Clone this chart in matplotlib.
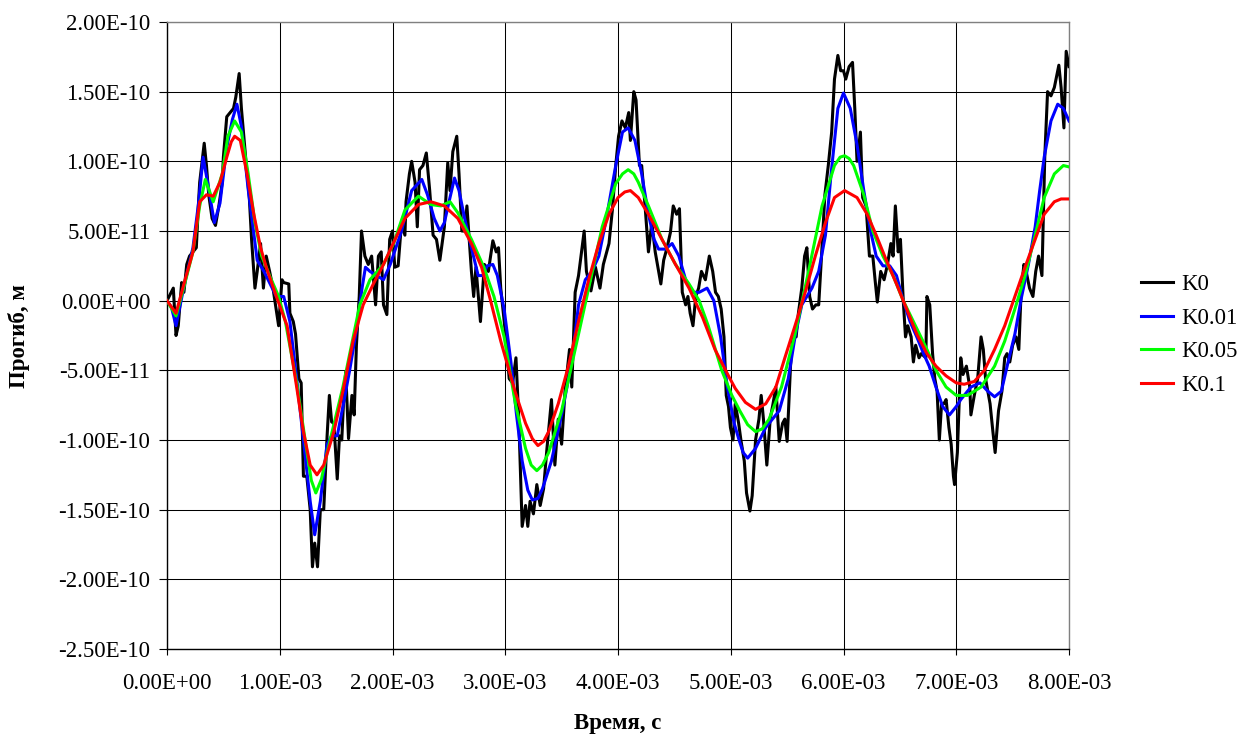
import matplotlib
matplotlib.use("Agg")
import matplotlib.pyplot as plt
from matplotlib.ticker import FuncFormatter

plt.rcParams['font.family'] = ['Liberation Serif', 'DejaVu Serif']

# time in ms, deflection in 1e-11 m
K0 = [(0,0),(0.056,0.9),(0.08,-2.5),(0.10,-1.8),(0.13,1.3),(0.15,0.6),(0.175,2.6),(0.20,3.2),(0.23,3.5),(0.26,3.8),(0.28,7.1),(0.29,8.5),(0.33,11.3),(0.35,9.7),(0.37,7.6),(0.40,5.9),(0.43,5.4),(0.46,6.8),(0.49,8.5),(0.50,10.3),(0.53,13.2),(0.56,13.5),(0.59,13.8),(0.61,14.6),(0.64,16.3),(0.66,13.8),(0.71,9.1),(0.73,7.4),(0.75,4.4),(0.78,0.9),(0.80,2.1),(0.83,4.1),(0.855,0.9),(0.88,3.2),(0.91,2.1),(0.94,0.9),(0.99,-1.8),(1.02,1.5),(1.035,1.3),(1.08,1.2),(1.09,-0.9),(1.12,-1.5),(1.14,-2.4),(1.17,-5.6),(1.19,-5.9),(1.21,-12.6),(1.24,-12.6),(1.27,-15.0),(1.29,-19.1),(1.31,-17.4),(1.335,-19.1),(1.36,-15.0),(1.39,-15.0),(1.42,-9.7),(1.44,-6.8),(1.46,-8.7),(1.48,-8.8),(1.51,-12.8),(1.53,-9.7),(1.55,-10.0),(1.565,-7.4),(1.585,-5.1),(1.61,-9.9),(1.64,-6.8),(1.66,-8.2),(1.68,-3.2),(1.705,0.3),(1.725,5.0),(1.755,3.2),(1.785,2.6),(1.815,3.2),(1.85,-0.3),(1.875,3.2),(1.90,3.5),(1.92,-0.3),(1.95,-1.0),(1.975,4.4),(2.0,5.0),(2.02,2.4),(2.05,2.5),(2.08,5.6),(2.11,4.7),(2.12,7.1),(2.15,9.1),(2.17,10.0),(2.20,8.5),(2.22,5.3),(2.24,9.4),(2.27,9.7),(2.30,10.6),(2.33,7.9),(2.36,4.7),(2.39,4.4),(2.42,2.9),(2.46,5.3),(2.49,9.9),(2.51,7.9),(2.535,10.7),(2.57,11.8),(2.59,9.1),(2.615,5.0),(2.64,5.0),(2.66,6.8),(2.70,2.1),(2.72,0.3),(2.74,2.4),(2.78,-1.5),(2.815,2.6),(2.85,2.1),(2.89,4.3),(2.92,3.5),(2.94,3.8),(2.96,0.9),(3.005,-2.6),(3.035,-5.6),(3.065,-5.9),(3.095,-4.1),(3.12,-8.5),(3.15,-16.2),(3.18,-14.7),(3.20,-16.2),(3.22,-14.4),(3.25,-15.3),(3.28,-13.2),(3.31,-14.7),(3.34,-13.5),(3.37,-10.6),(3.41,-7.1),(3.44,-11.8),(3.47,-8.5),(3.50,-10.3),(3.53,-6.5),(3.57,-3.5),(3.59,-6.2),(3.62,0.6),(3.65,1.8),(3.70,5.0),(3.72,2.1),(3.76,0.7),(3.80,2.4),(3.84,0.9),(3.87,2.6),(3.92,4.1),(3.95,6.5),(3.98,9.7),(4.005,11.8),(4.035,12.9),(4.065,12.4),(4.095,13.5),(4.11,11.5),(4.14,15.0),(4.16,14.4),(4.19,9.7),(4.21,9.7),(4.24,6.8),(4.27,3.5),(4.30,5.6),(4.33,3.5),(4.38,1.2),(4.405,2.9),(4.435,3.8),(4.465,4.9),(4.49,6.8),(4.52,6.2),(4.545,6.6),(4.57,0.6),(4.60,-0.3),(4.62,0.3),(4.64,-0.9),(4.665,-1.8),(4.69,0.3),(4.715,0.9),(4.74,2.1),(4.775,1.5),(4.81,3.2),(4.84,2.1),(4.865,0.6),(4.89,0.3),(4.915,-0.6),(4.94,-2.6),(4.96,-6.8),(4.98,-7.6),(4.997,-9.1),(5.02,-10.0),(5.04,-7.4),(5.07,-8.8),(5.09,-10.0),(5.12,-11.5),(5.14,-13.8),(5.17,-15.1),(5.19,-14.0),(5.22,-10.0),(5.25,-8.5),(5.27,-6.8),(5.29,-8.5),(5.32,-11.8),(5.35,-8.5),(5.375,-7.4),(5.40,-6.2),(5.43,-10.1),(5.46,-8.8),(5.48,-8.5),(5.50,-10.1),(5.53,-4.7),(5.55,-2.6),(5.58,-2.6),(5.60,-0.9),(5.63,0.9),(5.655,3.2),(5.675,3.8),(5.70,0.3),(5.725,-0.6),(5.755,-0.3),(5.78,-0.3),(5.805,3.2),(5.835,7.6),(5.865,9.7),(5.895,12.1),(5.92,15.9),(5.95,17.6),(5.975,16.5),(6.0,16.5),(6.02,15.9),(6.05,16.8),(6.08,17.1),(6.10,13.8),(6.12,10.0),(6.15,12.1),(6.17,7.4),(6.20,6.8),(6.23,3.2),(6.26,3.2),(6.28,1.5),(6.30,-0.1),(6.33,2.1),(6.36,1.5),(6.39,2.6),(6.42,4.1),(6.44,3.2),(6.46,6.8),(6.485,3.5),(6.505,4.4),(6.53,0.0),(6.55,-2.6),(6.57,-1.8),(6.60,-2.6),(6.62,-4.4),(6.64,-3.2),(6.67,-4.1),(6.69,-3.8),(6.73,-4.1),(6.74,0.3),(6.765,-0.3),(6.79,-3.8),(6.81,-5.6),(6.83,-6.5),(6.85,-10.0),(6.87,-7.4),(6.89,-7.4),(6.91,-7.1),(6.935,-9.1),(6.955,-10.3),(6.975,-12.6),(6.985,-13.2),(7.01,-10.9),(7.04,-4.1),(7.06,-5.3),(7.09,-4.7),(7.12,-6.2),(7.13,-8.2),(7.16,-6.8),(7.19,-5.6),(7.22,-2.6),(7.24,-3.5),(7.26,-5.6),(7.30,-7.4),(7.325,-9.4),(7.345,-10.9),(7.375,-7.9),(7.405,-6.5),(7.43,-4.1),(7.45,-3.8),(7.475,-4.4),(7.50,-3.2),(7.53,-2.6),(7.555,-3.5),(7.575,0.6),(7.60,2.6),(7.62,2.1),(7.65,0.9),(7.68,0.3),(7.705,2.1),(7.73,3.2),(7.76,1.8),(7.785,10.3),(7.81,15.0),(7.84,14.7),(7.87,15.3),(7.91,16.9),(7.93,15.3),(7.955,12.4),(7.975,17.9),(8.0,16.8)]

K001 = [(0,0),(0.04,-0.5),(0.08,-1.8),(0.15,1.0),(0.23,3.8),(0.28,7.0),(0.32,10.3),(0.36,8.5),(0.42,5.6),(0.47,7.0),(0.53,11.0),(0.58,13.0),(0.62,14.1),(0.66,12.5),(0.72,8.0),(0.80,2.9),(0.86,2.1),(0.97,0.3),(1.035,0.3),(1.09,-1.5),(1.15,-5.6),(1.21,-10.0),(1.27,-14.4),(1.31,-16.8),(1.36,-14.4),(1.42,-10.3),(1.46,-9.7),(1.51,-9.7),(1.56,-7.6),(1.62,-5.0),(1.68,-2.1),(1.73,0.9),(1.76,2.4),(1.80,2.1),(1.86,1.8),(1.92,1.5),(1.98,2.6),(2.08,5.0),(2.17,7.9),(2.26,8.7),(2.31,7.6),(2.37,5.9),(2.42,5.0),(2.46,5.6),(2.51,7.4),(2.55,8.8),(2.59,7.9),(2.64,5.9),(2.70,3.8),(2.76,1.8),(2.80,1.8),(2.84,2.5),(2.89,2.6),(2.93,1.8),(2.99,-0.6),(3.05,-4.4),(3.10,-8.2),(3.15,-11.5),(3.20,-13.6),(3.24,-14.3),(3.29,-14.2),(3.33,-13.5),(3.41,-11.5),(3.50,-8.2),(3.59,-4.4),(3.65,-0.3),(3.71,1.5),(3.77,2.1),(3.83,3.2),(3.89,5.6),(3.98,9.7),(4.04,12.1),(4.09,12.4),(4.15,11.5),(4.21,9.1),(4.27,6.2),(4.32,4.4),(4.36,3.7),(4.42,3.7),(4.48,4.1),(4.54,3.2),(4.60,1.5),(4.66,0.6),(4.72,0.6),(4.79,0.9),(4.85,0.0),(4.91,-2.6),(4.97,-6.2),(5.03,-8.8),(5.07,-9.9),(5.11,-10.9),(5.15,-11.3),(5.22,-10.6),(5.31,-9.1),(5.43,-7.9),(5.51,-5.6),(5.57,-2.6),(5.63,-0.3),(5.72,0.9),(5.78,2.1),(5.84,4.7),(5.89,9.1),(5.95,13.8),(6.0,14.9),(6.06,13.8),(6.12,11.2),(6.18,7.9),(6.24,5.0),(6.29,3.2),(6.35,2.5),(6.41,2.5),(6.47,1.8),(6.53,0.0),(6.59,-1.5),(6.65,-2.6),(6.71,-3.8),(6.76,-4.7),(6.82,-6.2),(6.88,-7.6),(6.94,-8.2),(7.0,-7.6),(7.04,-7.1),(7.13,-6.2),(7.21,-5.9),(7.28,-6.5),(7.34,-6.9),(7.40,-6.5),(7.46,-4.4),(7.52,-2.4),(7.58,0.3),(7.64,2.6),(7.70,5.3),(7.74,7.9),(7.78,10.3),(7.84,12.9),(7.90,14.1),(7.95,13.8),(8.0,12.9)]

K005 = [(0,0),(0.08,-1.1),(0.15,1.0),(0.23,3.5),(0.29,6.8),(0.34,8.7),(0.41,7.1),(0.49,9.1),(0.54,11.8),(0.60,12.9),(0.66,12.1),(0.72,9.1),(0.78,5.6),(0.84,3.2),(0.91,1.8),(0.99,0.3),(1.05,-1.5),(1.15,-5.9),(1.24,-10.8),(1.28,-12.9),(1.32,-13.8),(1.37,-12.8),(1.42,-10.9),(1.56,-6.2),(1.71,-0.3),(1.80,1.5),(1.92,2.6),(2.01,4.1),(2.11,6.5),(2.23,7.5),(2.34,6.9),(2.43,6.8),(2.51,7.1),(2.58,6.3),(2.70,4.4),(2.81,2.4),(2.90,0.3),(2.99,-2.6),(3.09,-7.4),(3.18,-10.6),(3.23,-11.8),(3.28,-12.2),(3.33,-11.8),(3.385,-10.9),(3.50,-7.9),(3.62,-3.5),(3.74,0.9),(3.86,5.3),(3.98,8.4),(4.04,9.1),(4.09,9.4),(4.14,9.1),(4.18,8.5),(4.27,6.8),(4.39,4.4),(4.51,2.6),(4.63,1.2),(4.72,0.0),(4.80,-1.8),(4.92,-5.0),(5.01,-6.8),(5.08,-7.9),(5.15,-8.9),(5.22,-9.4),(5.28,-9.2),(5.34,-8.5),(5.45,-6.2),(5.57,-2.4),(5.69,2.1),(5.81,6.8),(5.92,9.7),(5.97,10.3),(6.01,10.4),(6.05,10.2),(6.09,9.7),(6.18,7.6),(6.26,5.0),(6.35,3.2),(6.44,1.8),(6.53,0.0),(6.62,-1.5),(6.74,-3.5),(6.82,-5.0),(6.91,-6.2),(7.0,-6.8),(7.10,-6.8),(7.22,-6.2),(7.34,-4.7),(7.43,-2.9),(7.52,-0.6),(7.61,1.8),(7.70,4.7),(7.78,7.4),(7.87,9.1),(7.95,9.7),(8.0,9.6)]

K01 = [(0,0),(0.08,-0.9),(0.15,1.2),(0.23,3.5),(0.29,7.1),(0.35,7.6),(0.41,7.5),(0.47,8.5),(0.53,10.3),(0.57,11.4),(0.60,11.8),(0.65,11.5),(0.71,9.1),(0.77,6.2),(0.83,3.8),(0.88,2.4),(0.97,0.3),(1.065,-1.8),(1.15,-6.2),(1.21,-9.4),(1.27,-11.8),(1.33,-12.5),(1.39,-11.8),(1.48,-9.4),(1.56,-6.5),(1.65,-2.9),(1.74,-0.3),(1.83,1.2),(1.92,2.6),(2.0,4.0),(2.11,5.9),(2.23,6.9),(2.34,7.1),(2.46,6.8),(2.58,5.9),(2.70,4.1),(2.79,2.4),(2.87,0.0),(2.96,-2.9),(3.09,-6.6),(3.18,-8.8),(3.24,-9.9),(3.29,-10.4),(3.34,-10.1),(3.385,-9.4),(3.47,-7.4),(3.56,-4.7),(3.65,-1.5),(3.74,1.5),(3.83,4.1),(3.92,6.2),(4.0,7.4),(4.06,7.8),(4.11,7.9),(4.18,7.4),(4.27,6.2),(4.39,4.4),(4.51,2.6),(4.63,0.9),(4.75,-1.2),(4.86,-3.5),(4.98,-5.4),(5.04,-6.3),(5.13,-7.3),(5.22,-7.8),(5.31,-7.4),(5.40,-6.2),(5.48,-4.1),(5.57,-1.8),(5.66,0.6),(5.75,3.2),(5.84,5.6),(5.92,7.4),(6.01,7.9),(6.12,7.4),(6.21,6.2),(6.29,4.7),(6.38,2.9),(6.47,1.2),(6.56,-0.6),(6.65,-2.4),(6.74,-3.8),(6.82,-4.7),(6.91,-5.4),(7.0,-5.9),(7.07,-6.0),(7.16,-5.8),(7.25,-5.0),(7.34,-3.5),(7.43,-1.8),(7.52,0.3),(7.61,2.4),(7.70,4.4),(7.78,6.2),(7.87,7.1),(7.93,7.3),(8.0,7.3)]

series_names = ['K0', 'K0.01', 'K0.05', 'K0.1']
series_data = [K0, K001, K005, K01]
series_colors = ['#000000', '#0000FF', '#00FF00', '#FF0000']

x_ticks = [i * 1e-3 for i in range(9)]
y_ticks = [v * 5e-11 for v in range(-5, 5)]

fig = plt.figure(figsize=(12.43, 7.35), dpi=100)
ax = fig.add_axes([167/1243, 1 - 649/735, (1069-167)/1243, (649-22)/735])

for name, data, col in zip(series_names, series_data, series_colors):
    t = [p[0] * 1e-3 for p in data]
    v = [p[1] * 1e-11 for p in data]
    ax.plot(t, v, color=col, lw=2.2, label=name, solid_joinstyle='round', zorder=3)

ax.set_xlim(0, 8e-3)
ax.set_ylim(-2.5e-10, 2.0e-10)
ax.set_xticks(x_ticks)
ax.set_yticks(y_ticks)
fmt = FuncFormatter(lambda val, pos: "{:.2E}".format(0.0 if abs(val) < 1e-20 else val))
ax.xaxis.set_major_formatter(fmt)
ax.yaxis.set_major_formatter(fmt)
ax.grid(True, color='#000000', lw=0.75, zorder=1)
ax.set_axisbelow(True)

for s in ['top', 'right']:
    ax.spines[s].set_color('#808080')
    ax.spines[s].set_linewidth(1.0)
for s in ['left', 'bottom']:
    ax.spines[s].set_color('#000000')
    ax.spines[s].set_linewidth(1.0)

ax.tick_params(axis='y', direction='out', length=6, width=0.8, pad=6, labelsize=16.5)
ax.tick_params(axis='x', direction='out', length=4.5, width=0.8, pad=13, labelsize=16.5)

fig.text(618/1243, 1 - 723/735, 'Время, с', ha='center', va='center',
         fontsize=16.5, fontweight='bold')
fig.text(19/1243, 1 - 336/735, 'Прогиб, м', ha='center', va='center',
         rotation=90, fontsize=16.5, fontweight='bold')

leg = ax.legend(loc='center left', bbox_to_anchor=(1141/1243, 1 - 335/735),
                bbox_transform=fig.transFigure, frameon=False, fontsize=16.5,
                handlelength=1.4, handletextpad=0.35, labelspacing=0.55,
                borderpad=0, borderaxespad=0)
for line in leg.get_lines():
    line.set_linewidth(2.2)

fig.savefig('out.png', dpi=100)
